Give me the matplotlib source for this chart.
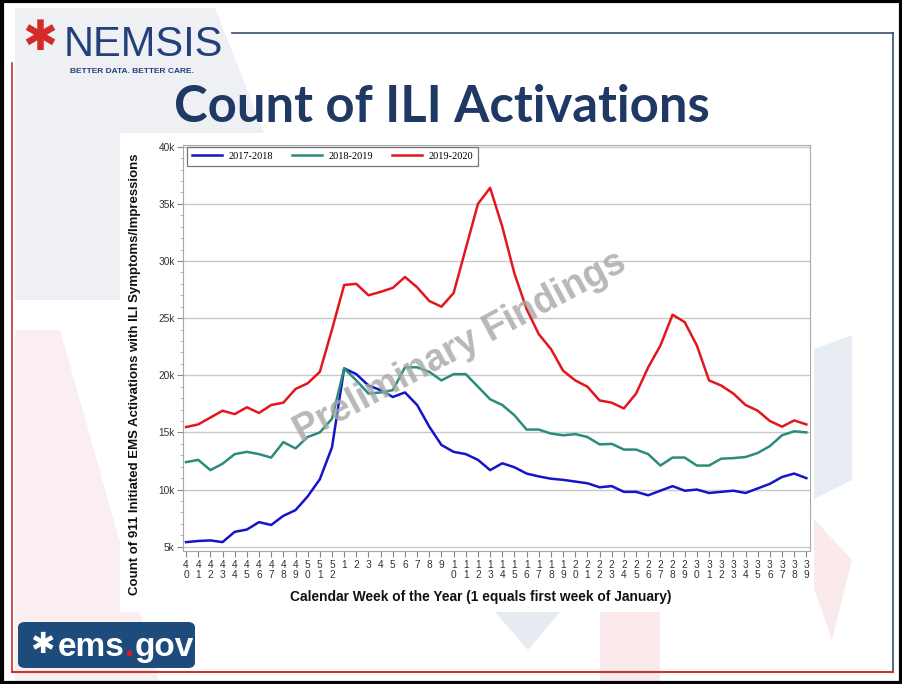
import numpy as np
import matplotlib.pyplot as plt
from matplotlib.patches import Polygon, Rectangle, FancyBboxPatch
from matplotlib.lines import Line2D

# ── Data (counts in thousands) ──────────────────────────────────────────────
weeks = list(range(40, 53)) + list(range(1, 40))

season_1718 = [5.4, 5.5, 5.55, 5.4, 6.3, 6.5, 7.15, 6.9, 7.7, 8.2, 9.4, 10.9, 13.7,
               20.6, 20.1, 19.1, 18.7, 18.1, 18.5, 17.4, 15.5, 13.9, 13.3, 13.1, 12.6, 11.7,
               12.3, 11.95, 11.4, 11.15, 10.95, 10.85, 10.7, 10.55, 10.2, 10.3, 9.8, 9.8, 9.5,
               9.9, 10.3, 9.9, 10.0, 9.7, 9.8, 9.9, 9.7, 10.1, 10.5, 11.1, 11.4, 11.0]
season_1819 = [12.4, 12.6, 11.7, 12.26, 13.1, 13.3, 13.1, 12.8, 14.15, 13.6, 14.6, 15.0, 16.2,
               20.6, 19.55, 18.4, 18.5, 18.7, 20.7, 20.7, 20.3, 19.55, 20.1, 20.1, 19.0, 17.9,
               17.4, 16.5, 15.25, 15.25, 14.9, 14.75, 14.85, 14.6, 13.95, 14.0, 13.5, 13.5, 13.1,
               12.1, 12.8, 12.8, 12.1, 12.1, 12.7, 12.75, 12.85, 13.2, 13.8, 14.75, 15.1, 15.0]
season_1920 = [15.47, 15.7, 16.3, 16.9, 16.6, 17.2, 16.7, 17.4, 17.6, 18.8, 19.3, 20.3, 24.0,
               27.9, 28.0, 27.0, 27.3, 27.65, 28.6, 27.7, 26.5, 26.0, 27.2, 31.1, 35.0, 36.4,
               33.0, 28.9, 25.8, 23.6, 22.3, 20.4, 19.55, 19.0, 17.8, 17.6, 17.1, 18.4, 20.7,
               22.6, 25.3, 24.65, 22.6, 19.55, 19.1, 18.4, 17.4, 16.9, 16.0, 15.5, 16.05, 15.7]

series_labels = ["2017-2018", "2018-2019", "2019-2020"]
series_colors = ["#1414c8", "#2b8c7c", "#e2171d"]
y_ticks = [5, 10, 15, 20, 25, 30, 35, 40]

W, H = 903, 684


def px(x, y):
    """pixel (top-left origin) -> figure fraction"""
    return x / W, 1 - y / H


fig = plt.figure(figsize=(W / 100, H / 100), dpi=100)
fig.patch.set_facecolor("white")
renderer = fig.canvas.get_renderer()

# ── Slide background decoration ─────────────────────────────────────────────
def poly(pts, color, z=0):
    p = Polygon([px(*q) for q in pts], closed=True, transform=fig.transFigure,
                facecolor=color, edgecolor="none", zorder=z)
    fig.add_artist(p)

poly([(15, 8), (215, 8), (265, 135), (130, 300), (15, 300)], "#eef0f4")
poly([(15, 330), (60, 330), (160, 684), (15, 684)], "#fbeef0")
poly([(495, 612), (560, 612), (528, 650)], "#e6ebf1")
poly([(600, 612), (660, 612), (660, 684), (600, 684)], "#fbeaec")
poly([(790, 520), (815, 520), (852, 560), (832, 640)], "#fbeaec")
poly([(812, 350), (852, 335), (852, 480), (812, 500)], "#e8edf3")

# chart panel (white)
fig.add_artist(Rectangle(px(120, 612), (814 - 120) / W, (612 - 133) / H,
                         transform=fig.transFigure, facecolor="white",
                         edgecolor="none", zorder=1))

# slide frame lines
def fline(xs, ys, color, lw):
    fig.add_artist(Line2D([px(v, 0)[0] for v in xs], [px(0, v)[1] for v in ys],
                          transform=fig.transFigure, color=color, lw=lw, zorder=2))

fline([232, 893], [33, 33], "#3b4f6e", 1.2)
fline([893, 893], [33, 672], "#3b4f6e", 1.2)
fline([12, 893], [672, 672], "#c0392b", 1.5)
fline([12, 12], [63, 672], "#c0392b", 1.2)
fig.add_artist(Rectangle((0.002, 0.002), 0.996, 0.996, transform=fig.transFigure,
                         facecolor="none", edgecolor="black", lw=3, zorder=5))

# NEMSIS logo
fig.text(*px(40, 38), "\u2731", color="#d42a2a", fontsize=30, ha="center", va="center",
         fontweight="bold", family="DejaVu Sans", zorder=3)
fig.text(*px(64, 56), "NEMSIS", color="#23407a", fontsize=30, ha="left", va="baseline",
         family="Liberation Sans", zorder=3)
fig.text(*px(70, 73), "BETTER DATA. BETTER CARE.", color="#23407a", fontsize=6,
         fontweight="bold", ha="left", va="baseline", family="Liberation Sans", zorder=3)

# Title
fig.text(*px(442, 107), "Count of ILI Activations", color="#1f3864", fontsize=36.5,
         fontweight="bold", ha="center", va="center", family="Lato", zorder=3)

# ems.gov logo
fig.add_artist(FancyBboxPatch(px(18, 668), (195 - 18) / W, (668 - 622) / H,
                              boxstyle="round,pad=0,rounding_size=0.008",
                              transform=fig.transFigure, facecolor="#1d4c7c",
                              edgecolor="none", zorder=3))
fig.text(*px(42, 645), "\u2731", color="white", fontsize=21, ha="center", va="center",
         family="DejaVu Sans", zorder=4)
xpos = 58
for part, col in [("ems", "white"), (".", "#e2171d"), ("gov", "white")]:
    t = fig.text(*px(xpos, 656), part, color=col, fontsize=24, fontweight="bold",
                 ha="left", va="baseline", family="Liberation Sans", zorder=4)
    xpos += t.get_window_extent(renderer).width

# ── Chart ───────────────────────────────────────────────────────────────────
left, right, top, bottom = 183, 810, 145, 550.7
ax = fig.add_axes([left / W, 1 - bottom / H, (right - left) / W, (bottom - top) / H],
                  zorder=3)
ax.set_facecolor("white")

x = np.arange(len(weeks))
for vals, lab, col in zip([season_1718, season_1819, season_1920], series_labels, series_colors):
    ax.plot(x, vals, color=col, lw=1.8, label=lab, zorder=3)

ax.set_xlim(-0.25, 51.3)
ax.set_ylim(4.65, 40.15)
ax.set_yticks(y_ticks)
ax.set_yticklabels([f"{v}k" for v in y_ticks])
ax.set_yticks(np.arange(5, 41, 1), minor=True)
ax.set_xticks(x)
ax.set_xticklabels([f"{w // 10}\n{w % 10}" if w >= 10 else str(w) for w in weeks],
                   linespacing=0.95)
ax.tick_params(axis="both", labelsize=7.3, labelcolor="#333333", color="#888888",
               direction="out")
ax.tick_params(axis="x", length=4, pad=3)
ax.tick_params(axis="y", which="major", length=4, pad=2)
ax.tick_params(axis="y", which="minor", length=2, color="#aaaaaa")
for lab in ax.get_xticklabels() + ax.get_yticklabels():
    lab.set_family("Liberation Sans")

ax.grid(axis="y", color="#c8c8c8", lw=1)
ax.set_axisbelow(True)
for s in ax.spines.values():
    s.set_color("#a8a8a8")
    s.set_linewidth(0.8)

fig.text(*px(481, 597), "Calendar Week of the Year (1 equals first week of January)",
         fontsize=9.9, fontweight="bold", family="Liberation Sans", ha="center",
         va="center", color="#111111", zorder=4)
fig.text(*px(135, 374), "Count of 911 Initiated EMS Activations with ILI Symptoms/Impressions",
         fontsize=9.5, fontweight="bold", family="Liberation Sans", ha="center",
         va="center", rotation=90, color="#111111", zorder=4)

leg = ax.legend(loc="upper left", bbox_to_anchor=(0.0064, 0.996), ncol=3,
                borderaxespad=0, frameon=True, fancybox=False, handlelength=2.9,
                columnspacing=1.8, handletextpad=0.6, borderpad=0.5,
                prop={"family": "Liberation Serif", "size": 7.5})
leg.get_frame().set_edgecolor("#555555")
leg.get_frame().set_linewidth(0.9)

# watermark
fig.text(*px(460, 347), "Preliminary Findings", rotation=28, rotation_mode="anchor",
         ha="center", va="center", fontsize=27, fontweight="bold", color="#a6a6a6",
         alpha=0.8, family="Liberation Sans", zorder=6)

fig.savefig("out.png", dpi=100)
